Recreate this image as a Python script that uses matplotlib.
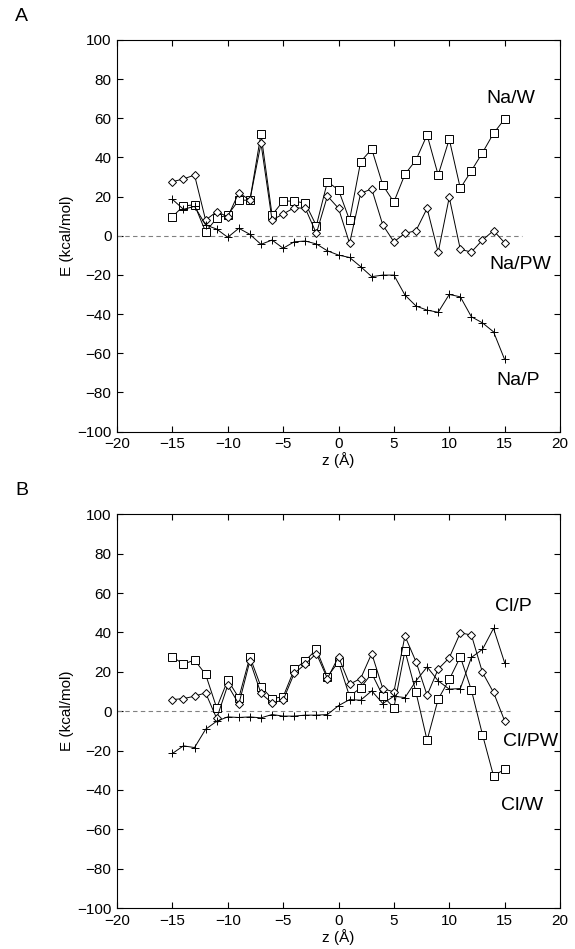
import matplotlib
matplotlib.use("Agg")
import matplotlib.pyplot as plt
import numpy as np

plt.rcParams['font.family'] = ['Liberation Sans', 'DejaVu Sans']

z = list(range(-15, 16))

# panel A (Na+)
na_w = [9.7, 15.2, 15.8, 2.0, 8.9, 10.6, 18.2, 18.1, 52.0, 10.6, 17.7, 17.7, 16.6, 5.1, 27.6, 23.4,
        8.0, 37.8, 44.3, 25.8, 17.2, 31.4, 38.7, 51.5, 31.0, 49.3, 24.2, 33.2, 42.4, 52.3, 59.6]
na_pw = [27.6, 29.0, 31.0, 8.0, 12.3, 9.7, 22.0, 18.2, 47.2, 8.0, 11.1, 14.3, 14.0, 1.2, 20.3, 14.0,
         -3.9, 21.7, 23.9, 5.5, -3.1, 1.2, 2.6, 14.0, -8.5, 19.6, -7.0, -8.3, -2.2, 2.6, -3.6]
na_p = [18.6, 13.5, 15.0, 5.5, 3.4, -0.8, 3.8, 0.7, -4.4, -2.2, -6.4, -3.1, -2.7, -4.2, -7.7, -9.9,
        -11.1, -15.8, -20.9, -20.1, -20.1, -30.3, -35.9, -38.0, -39.1, -30.0, -31.2, -41.4, -44.5, -49.1, -63.2]

# panel B (Cl-)
cl_w = [27.6, 23.9, 26.0, 18.7, 1.7, 15.8, 6.8, 27.6, 12.4, 6.4, 7.3, 21.2, 25.6, 31.4, 17.5, 25.1,
        7.5, 11.9, 19.2, 7.8, 1.7, 30.7, 9.5, -14.8, 6.1, 16.1, 27.6, 10.7, -11.9, -32.9, -29.5]
cl_pw = [5.9, 6.4, 7.6, 9.3, -3.7, 13.2, 3.6, 25.6, 9.0, 4.2, 5.6, 19.2, 23.9, 29.3, 16.6, 27.6,
         13.7, 16.6, 29.3, 11.5, 9.8, 38.2, 25.1, 8.1, 21.4, 27.1, 39.8, 38.7, 19.7, 9.5, -4.9]
cl_p = [-21.5, -17.6, -18.5, -9.2, -5.1, -2.9, -3.2, -2.9, -3.4, -1.7, -2.5, -2.5, -2.0, -2.0, -1.7, 2.8,
        5.9, 5.6, 10.3, 3.9, 7.6, 6.9, 15.4, 22.5, 15.4, 11.2, 11.5, 27.3, 31.4, 42.1, 24.6]

panels = [
    ("A", [0.2035, 0.5453, 0.7704, 0.4126],
     [(na_w, 's', "Na/W", (15.6, 70)), (na_pw, 'D', "Na/PW", (16.4, -14.5)), (na_p, '+', "Na/P", (16.2, -74))],
     16.6),
    ("B", [0.2035, 0.0432, 0.7704, 0.4148],
     [(cl_w, 's', "Cl/W", (16.6, -48)), (cl_pw, 'D', "Cl/PW", (17.3, -15.3)), (cl_p, '+', "Cl/P", (15.8, 53))],
     15.5),
]

fig = plt.figure(figsize=(5.75, 9.49), dpi=100)

for letter, rect, series, dash_end in panels:
    ax = fig.add_axes(rect)
    ax.plot([-20, dash_end], [0, 0], color='gray', linestyle=(0, (4, 3)), linewidth=0.8)
    for vals, mk, name, pos in series:
        ms = 4 if mk == 'D' else 5.5
        ax.plot(z, vals, color='black', linewidth=0.7, marker=mk, markersize=ms,
                markerfacecolor='white', markeredgecolor='black', markeredgewidth=0.7)
        ax.text(pos[0], pos[1], name, fontsize=14, ha='center', va='center')
    ax.set_xlim(-20, 20)
    ax.set_ylim(-100, 100)
    ax.set_xticks(np.arange(-20, 21, 5))
    ax.set_yticks(np.arange(-100, 101, 20))
    ax.tick_params(direction='in', top=True, right=True, length=4, width=0.8, labelsize=11)
    ax.tick_params(axis='x', pad=4)
    ax.tick_params(axis='y', pad=4)
    ax.set_xlabel("z (Å)", fontsize=11, labelpad=1)
    ax.set_ylabel("E (kcal/mol)", fontsize=11, labelpad=2)
    for sp in ax.spines.values():
        sp.set_linewidth(0.8)
    fig.text(0.026, rect[1] + rect[3] + 0.025, letter, fontsize=14, ha='left', va='center')

fig.savefig("out.png", dpi=100)
